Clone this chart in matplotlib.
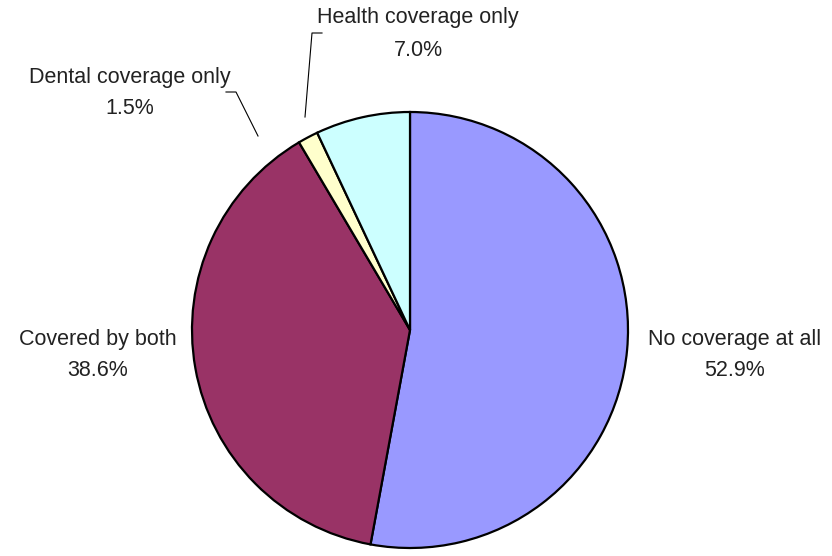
import matplotlib
matplotlib.use("Agg")
import matplotlib.pyplot as plt

labels = ["No coverage at all", "Covered by both", "Dental coverage only", "Health coverage only"]
shares = [52.9, 38.6, 1.5, 7.0]
colors = ["#9999FF", "#993366", "#FFFFCC", "#CCFFFF"]

W, H = 832, 556
plt.rcParams['font.family'] = ['Liberation Sans', 'DejaVu Sans']

fig = plt.figure(figsize=(W / 100, H / 100), dpi=100)
ax = fig.add_axes([0, 0, 1, 1])

cx, cy, r = 410, H - 330, 218
ax.pie(shares, colors=colors, startangle=90, counterclock=False,
       center=(cx, cy), radius=r, frame=True,
       wedgeprops=dict(edgecolor='black', linewidth=1.6))
ax.set_xlim(0, W)
ax.set_ylim(0, H)
ax.set_aspect('equal')
ax.axis('off')

# label positions (pixel, top-down)
label_pos = {
    "No coverage at all": (735, 339),
    "Covered by both": (98, 339),
    "Dental coverage only": (130, 77),
    "Health coverage only": (418, 18),
}
for lab, val in zip(labels, shares):
    x, y = label_pos[lab]
    ax.text(x, H - y, lab, ha='center', va='center', fontsize=15.5, color='#222222')
    ax.text(x, H - y - 32, f"{val:.1f}%", ha='center', va='center', fontsize=15.5, color='#222222')

# leader lines
ax.plot([305, 312, 322], [H - 117, H - 33, H - 33], color='black', lw=0.8)
ax.plot([258, 236, 226], [H - 136, H - 92, H - 92], color='black', lw=0.8)

fig.savefig("out.png", dpi=100)
